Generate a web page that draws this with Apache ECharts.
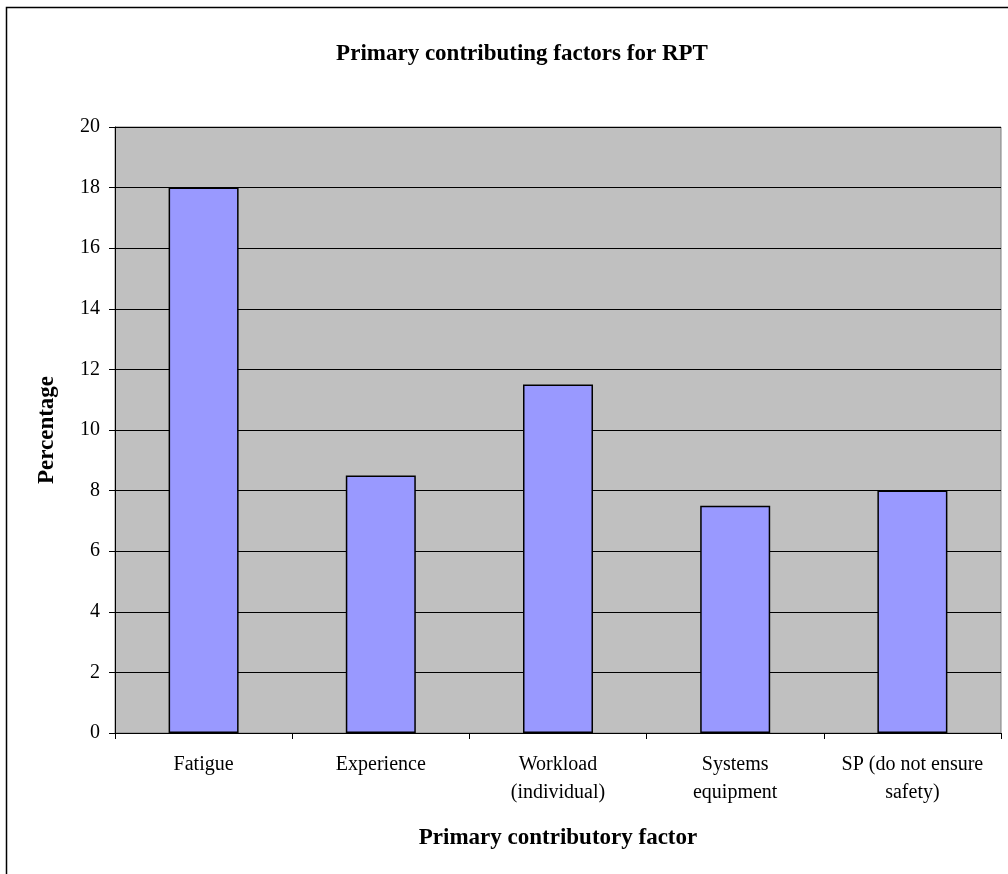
<!DOCTYPE html>
<html>
<head>
<meta charset="utf-8">
<script src="https://cdn.jsdelivr.net/npm/echarts@6/dist/echarts.min.js"></script>
<style>
  html, body { margin: 0; padding: 0; background: #fff; }
  #chart { width: 1008px; height: 874px; }
</style>
</head>
<body>
<div id="chart"></div>
<script>
// Contributing factors and their share (%)
const categories = [
  'Fatigue',
  'Experience',
  'Workload\n(individual)',
  'Systems\nequipment',
  'SP (do not ensure\nsafety)'
];
const percentages = [18, 8.5, 11.5, 7.5, 8];
const yTicks = { min: 0, max: 20, interval: 2 };

const serif = '"Liberation Serif", "Times New Roman", serif';

const chart = echarts.init(document.getElementById('chart'), null, { renderer: 'canvas' });

chart.setOption({
  backgroundColor: '#ffffff',
  animation: false,
  title: {
    text: 'Primary contributing factors for RPT',
    left: 517,
    top: 38,
    textAlign: 'center',
    textStyle: { fontFamily: serif, fontSize: 23, fontWeight: 'bold', color: '#000' }
  },
  graphic: [{
    type: 'rect',
    shape: { x: 6.5, y: 7.5, width: 1100, height: 1000 },
    style: { fill: 'none', stroke: '#000', lineWidth: 1.5 },
    silent: true,
    z: 100
  }],
  grid: {
    left: 115,
    right: 7,
    top: 127,
    bottom: 141,
    show: true,
    backgroundColor: '#c0c0c0',
    borderColor: '#808080',
    borderWidth: 1
  },
  xAxis: {
    type: 'category',
    data: categories,
    name: 'Primary contributory factor',
    nameLocation: 'middle',
    nameGap: 94,
    nameTextStyle: { fontFamily: serif, fontSize: 23, fontWeight: 'bold', color: '#000' },
    axisLine: { show: true, lineStyle: { color: '#000', width: 1 } },
    axisTick: { show: true, alignWithLabel: false, length: 6, lineStyle: { color: '#000' } },
    axisLabel: {
      interval: 0,
      margin: 18,
      fontFamily: serif,
      fontSize: 20,
      lineHeight: 28,
      color: '#000'
    },
    splitLine: { show: false }
  },
  yAxis: {
    type: 'value',
    min: yTicks.min,
    max: yTicks.max,
    interval: yTicks.interval,
    name: 'Percentage',
    nameLocation: 'middle',
    nameGap: 56,
    nameTextStyle: { fontFamily: serif, fontSize: 23, fontWeight: 'bold', color: '#000' },
    axisLine: { show: true, lineStyle: { color: '#000', width: 1 } },
    axisTick: { show: true, inside: false, length: 6, lineStyle: { color: '#000' } },
    axisLabel: { margin: 15, fontFamily: serif, fontSize: 20, color: '#000' },
    splitLine: { show: true, lineStyle: { color: '#000', width: 1 } }
  },
  series: [{
    type: 'bar',
    data: percentages,
    barWidth: '39.5%',
    itemStyle: { color: '#9999ff', borderColor: '#000', borderWidth: 1.5 }
  }]
});
</script>
</body>
</html>
